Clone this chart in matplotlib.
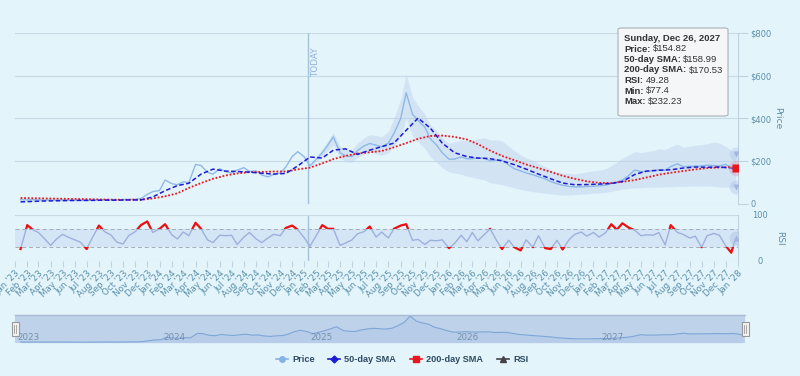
import matplotlib
matplotlib.use('Agg')
import matplotlib.pyplot as plt
import matplotlib.dates as mdates
import matplotlib.transforms as mtransforms
from matplotlib.lines import Line2D
from matplotlib.patches import Rectangle, FancyBboxPatch
import pandas as pd

# ---- data ----
last_day = pd.Timestamp('2027-12-26')
today = pd.Timestamp('2025-01-09')

# semi-monthly samples (1st / 15th) plus the hovered last day
half_dates = list(pd.date_range('2023-01-15', '2027-12-15', freq='SMS')) + [last_day]
# monthly samples (15th) plus the hovered last day
month_dates = list(pd.date_range('2023-01-15', periods=60, freq=pd.DateOffset(months=1))) + [last_day]

price = [20, 19, 20, 19, 18, 19, 18, 19, 18, 17,
         17, 16, 18, 19, 20, 19, 19, 20, 21, 22,
         25, 45, 58, 63, 112, 95, 90, 104, 100, 185,
         180, 148, 140, 165, 152, 145, 158, 170, 152, 155,
         136, 127, 138, 145, 173, 222, 245, 220, 178, 212,
         240, 275, 314, 240, 225, 222, 250, 272, 283, 275,
         268, 285, 330, 400, 520, 420, 390, 360, 305, 275,
         240, 210, 210, 220, 212, 212, 215, 215, 202, 205,
         205, 182, 165, 155, 145, 137, 128, 118, 105, 95,
         88, 82, 80, 80, 82, 83, 85, 88, 96, 102,
         112, 135, 159, 152, 152, 155, 160, 158, 175, 188,
         175, 176, 178, 178, 182, 180, 178, 185, 172, 154.82]

# forecast range (min / max), starts right after TODAY
band_start = 48
band_lo = [175, 200, 222, 250, 275, 215, 198, 195, 218, 235,
           245, 235, 228, 240, 270, 320, 400, 320, 290, 260,
           220, 195, 170, 150, 145, 140, 130, 125, 118, 112,
           100, 95, 90, 82, 75, 68, 63, 58, 54, 50,
           47, 44, 42, 42, 44, 46, 48, 50, 51, 54,
           60, 64, 70, 73, 75, 76, 78, 78, 79, 80,
           80, 82, 82, 83, 84, 85, 84, 82, 80, 79,
           78, 77.4]
band_hi = [182, 225, 258, 295, 335, 270, 255, 255, 285, 310,
           325, 320, 315, 340, 400, 490, 610, 500, 460, 420,
           370, 340, 310, 285, 290, 300, 295, 300, 305, 310,
           300, 300, 295, 270, 250, 230, 215, 205, 190, 175,
           160, 150, 145, 143, 140, 145, 150, 155, 158, 165,
           180, 195, 215, 230, 245, 240, 245, 250, 258, 255,
           268, 280, 265, 270, 275, 278, 282, 290, 285, 270,
           250, 232.23]

sma50 = [10, 12, 14, 15, 16, 17, 17, 18, 18, 19,
         19, 33, 62, 86, 97, 140, 163, 154, 152, 149,
         144, 140, 143, 178, 220, 215, 252, 258, 232, 252,
         268, 285, 345, 402, 355, 285, 240, 222, 215, 212,
         202, 184, 163, 140, 118, 98, 90, 91, 93, 96,
         105, 138, 154, 158, 160, 168, 173, 172, 173, 168,
         158.99]

sma200 = [28, 27, 26, 25, 24, 23, 22, 21, 20, 20,
          20, 26, 36, 50, 75, 98, 118, 133, 143, 149,
          150, 152, 152, 162, 170, 190, 210, 225, 236, 242,
          248, 265, 285, 305, 318, 320, 314, 302, 280, 250,
          225, 205, 185, 168, 150, 132, 118, 106, 99, 98,
          104, 112, 124, 137, 146, 154, 162, 168, 171, 173,
          170.53]

rsi = [26, 78, 68, 62, 50, 34, 47, 58, 52, 46,
       41, 26, 50, 77, 64, 56, 41, 37, 55, 64,
       78, 86, 62, 70, 80, 57, 48, 63, 55, 83,
       70, 46, 40, 56, 55, 56, 36, 52, 62, 48,
       40, 50, 58, 55, 72, 77, 68, 50, 32, 57,
       78, 70, 70, 34, 39, 46, 59, 64, 75, 52,
       63, 50, 70, 77, 80, 45, 47, 36, 45, 44,
       46, 28, 38, 56, 42, 62, 44, 58, 70, 45,
       26, 45, 30, 23, 46, 30, 55, 28, 26, 45,
       25, 47, 58, 63, 54, 62, 52, 62, 80, 68,
       82, 72, 67, 55, 57, 56, 62, 35, 78, 62,
       58, 50, 54, 30, 55, 60, 56, 33, 18, 49.28]

price_ticks = [0, 200, 400, 600, 800]
price_tick_labels = ['0', '$200', '$400', '$600', '$800']
nav_years = [2023, 2024, 2025, 2026, 2027]

# ---- style ----
BG = '#e3f4fb'
GRID = '#c6dae6'
AXC = '#c0d2de'
LABEL = '#5b90a9'
PRICE_C = '#86b3e6'
SMA50_C = '#1c1cd4'
SMA200_C = '#e8161e'
RSI_C = '#9db0dc'
TXT = '#333333'

plt.rcParams['font.family'] = 'DejaVu Sans'
W, H = 800, 376
fig = plt.figure(figsize=(W / 100, H / 100), dpi=100, facecolor=BG)


def px_axes(x0, y0, x1, y1, **kw):
    return fig.add_axes([x0 / W, 1 - y1 / H, (x1 - x0) / W, (y1 - y0) / H], **kw)


ax = px_axes(15, 33, 738, 204)
ax_rsi = px_axes(15, 215, 738, 261, sharex=ax)
ax_nav = px_axes(15, 315, 745, 343)

x0, x1 = pd.Timestamp('2023-01-01'), pd.Timestamp('2028-01-01')

# ---- price pane ----
ax.set_facecolor('none')
ax.fill_between(half_dates[band_start:], band_lo, band_hi, color='#bccfec', alpha=0.42, lw=0, zorder=1)
ax.plot(half_dates, price, color=PRICE_C, lw=1.0, alpha=0.9, zorder=2)
ax.plot(month_dates, sma200, color=SMA200_C, lw=1.3, ls=(0, (1, 1)), zorder=3)
ax.plot(month_dates, sma50, color=SMA50_C, lw=1.1, ls=(0, (3, 1.6)), zorder=4)

ax.set_xlim(x0, x1)
ax.set_ylim(0, 800)
ax.set_yticks(price_ticks)
ax.set_yticklabels(price_tick_labels)
ax.yaxis.tick_right()
ax.tick_params(axis='y', length=7, width=0.8, color=AXC, pad=2, labelsize=6, labelcolor=LABEL)
ax.tick_params(axis='x', bottom=False, labelbottom=False)
ax.yaxis.grid(True, color=GRID, lw=0.8)
ax.set_axisbelow(True)
for s in ['top', 'left', 'bottom']:
    ax.spines[s].set_visible(False)
ax.spines['right'].set_color(AXC)
ax.spines['right'].set_linewidth(0.8)

# TODAY plot line
for a in (ax, ax_rsi):
    a.axvline(today, color='#a6c1db', lw=1, zorder=1.5)
ax.annotate('TODAY', xy=(today, 1), xycoords=('data', 'axes fraction'),
            xytext=(2.5, -10), textcoords='offset points', rotation=90,
            ha='left', va='top', fontsize=6.3, color='#8fb0d8')

# hover markers at the last day
ax.plot([last_day], [band_hi[-1]], marker='o', ms=10, color='#a9bde0', alpha=0.35, mec='none', zorder=5)
ax.plot([last_day], [band_lo[-1]], marker='o', ms=10, color='#a9bde0', alpha=0.35, mec='none', zorder=5)
ax.plot([last_day], [band_hi[-1]], marker='v', ms=5, color='#a2b6de', mec='none', zorder=6)
ax.plot([last_day], [band_lo[-1]], marker='v', ms=5, color='#a2b6de', mec='none', zorder=6)
ax.plot([last_day], [sma200[-1]], marker='o', ms=11, color='#d9a0b8', alpha=0.45, mec='none', zorder=6)
ax.plot([last_day], [sma200[-1]], marker='s', ms=5.5, color=SMA200_C, mec='none', zorder=7)

# ---- RSI pane ----
ax_rsi.set_facecolor('none')
ax_rsi.axhspan(30, 70, color='#d4e6f5', lw=0, zorder=0)
for lvl in (30, 70):
    ax_rsi.axhline(lvl, color='#a3adb7', lw=0.7, ls=(0, (4, 3)), zorder=1)
ax_rsi.plot(half_dates, rsi, color=RSI_C, lw=1.0, zorder=2)
blend = mtransforms.blended_transform_factory(ax_rsi.transAxes, ax_rsi.transData)
for lo, hi in [(70, 101), (-1, 30)]:
    ln, = ax_rsi.plot(half_dates, rsi, color='#ee1010', lw=1.6, zorder=3)
    ln.set_clip_path(Rectangle((0, lo), 1, hi - lo, transform=blend))
ax_rsi.plot([last_day], [rsi[-1]], marker='o', ms=10, color='#a9bde0', alpha=0.4, mec='none', zorder=4)
ax_rsi.plot([last_day], [rsi[-1]], marker='^', ms=5, color='#a2b6de', mec='none', zorder=5)

ax_rsi.set_ylim(0, 100)
ax_rsi.set_yticks([0, 100])
ax_rsi.set_yticklabels(['0', '100'])
ax_rsi.yaxis.tick_right()
ax_rsi.tick_params(axis='y', length=0, pad=16, labelsize=6, labelcolor=LABEL)
for t in ax_rsi.get_yticklabels():
    t.set_horizontalalignment('center')
ax_rsi.yaxis.grid(True, color=GRID, lw=0.8)
for s in ['top', 'left', 'bottom']:
    ax_rsi.spines[s].set_visible(False)
ax_rsi.spines['right'].set_color(AXC)
ax_rsi.spines['right'].set_linewidth(0.8)

ax_rsi.xaxis.set_major_locator(mdates.MonthLocator())
ax_rsi.xaxis.set_major_formatter(mdates.DateFormatter("%b '%y"))
ax_rsi.tick_params(axis='x', length=4, width=0.8, color=AXC, pad=1.5, labelsize=6.3, labelcolor=LABEL)
for t in ax_rsi.get_xticklabels():
    t.set_rotation(45)
    t.set_ha('right')
    t.set_rotation_mode('anchor')

fig.text(778 / W, 1 - 118 / H, 'Price', rotation=270, ha='center', va='center', fontsize=6.5, color=LABEL)
fig.text(780 / W, 1 - 238 / H, 'RSI', rotation=270, ha='center', va='center', fontsize=6.5, color=LABEL)

# ---- navigator ----
ax_nav.set_facecolor('#bed2ea')
ax_nav.plot(half_dates, price, color='#7fa5d6', lw=0.8)
ax_nav.fill_between(half_dates, 0, price, color='#9fbde6', alpha=0.25, lw=0)
ax_nav.set_xlim(x0, x1)
ax_nav.set_ylim(0, 540)
ax_nav.set_xticks([])
ax_nav.set_yticks([])
for s in ['left', 'right', 'bottom']:
    ax_nav.spines[s].set_visible(False)
ax_nav.spines['top'].set_color('#a9bad3')
ax_nav.spines['top'].set_linewidth(1)
for yr in nav_years:
    ax_nav.annotate(str(yr), xy=(pd.Timestamp(f'{yr}-01-01'), 0.2),
                    xycoords=('data', 'axes fraction'), xytext=(2, 0),
                    textcoords='offset points', ha='left', va='center',
                    fontsize=6.3, color='#7391ad')

for hx in (15, 745):
    fig.patches.append(FancyBboxPatch(((hx - 3.5) / W, 1 - 336 / H), 7 / W, 14 / H,
                                      boxstyle='square,pad=0', transform=fig.transFigure,
                                      facecolor='#f2f2f2', edgecolor='#999999', lw=0.8))
    for gx in (-1, 1):
        fig.lines.append(Line2D([(hx + gx) / W] * 2, [1 - 333 / H, 1 - 325 / H],
                                transform=fig.transFigure, color='#999999', lw=0.6))

# ---- legend ----
handles = [
    Line2D([], [], color=PRICE_C, lw=1.2, marker='o', ms=4),
    Line2D([], [], color=SMA50_C, lw=1.2, marker='D', ms=3.5),
    Line2D([], [], color=SMA200_C, lw=1.2, marker='s', ms=4),
    Line2D([], [], color='#434348', lw=1.2, marker='^', ms=4),
]
labels = ['Price', '50-day SMA', '200-day SMA', 'RSI']
leg = fig.legend(handles, labels, loc='center', bbox_to_anchor=(402 / W, 1 - 360 / H),
                 ncol=4, frameon=False, handlelength=1.3, handletextpad=0.45,
                 columnspacing=1.5,
                 prop=dict(family=['Liberation Sans Narrow', 'Liberation Sans'], weight='bold', size=6.6))
for t in leg.get_texts():
    t.set_color('#2e4b60')

# ---- tooltip ----
fig.patches.append(FancyBboxPatch((618 / W, 1 - 116 / H), 110 / W, 88 / H,
                                  boxstyle='round,pad=0,rounding_size=0.004',
                                  transform=fig.transFigure, facecolor='#f6f7f8',
                                  edgecolor='#a7adb3', lw=0.8, alpha=0.95, zorder=10))
tip_rows = [
    ('Price:', f'${price[-1]:.2f}'),
    ('50-day SMA:', f'${sma50[-1]:.2f}'),
    ('200-day SMA:', f'${sma200[-1]:.2f}'),
    ('RSI:', f'{rsi[-1]:.2f}'),
    ('Min:', f'${band_lo[-1]:g}'),
    ('Max:', f'${band_hi[-1]:.2f}'),
]
tip_font = ['Liberation Sans', 'DejaVu Sans']
fig.canvas.draw()
renderer = fig.canvas.get_renderer()
tx = 624 / W
fig.text(tx, 1 - 38.5 / H, last_day.strftime('%A, %b %d, %Y'), fontsize=6.8, family=tip_font,
         weight='bold', color=TXT, va='center', zorder=11)
for i, (lab, val) in enumerate(tip_rows):
    yy = 1 - (49 + i * 10.5) / H
    t1 = fig.text(tx, yy, lab, fontsize=6.8, family=tip_font, weight='bold', color=TXT,
                  va='center', zorder=11)
    bb = t1.get_window_extent(renderer)
    fig.text((bb.x1 + 2.5) / W, yy, val, fontsize=6.8, family=tip_font, color=TXT,
             va='center', zorder=11)

fig.savefig('out.png', dpi=100, facecolor=BG)
